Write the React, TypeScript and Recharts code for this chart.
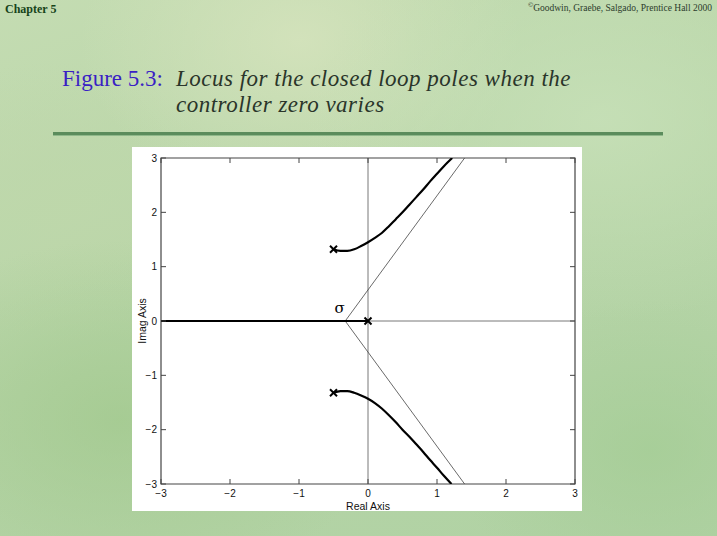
import React from 'react';
import { ComposedChart, Line, Scatter, XAxis, YAxis, ReferenceLine, ReferenceDot, ReferenceArea, Label } from 'recharts';

// tick values shared by both axes
const axisTicks = [-3, -2, -1, 0, 1, 2, 3];

// root locus branches
const realAxisLocus = [
  { x: -3, y: 0 },
  { x: 0, y: 0 },
];
const upperBranch = [
  { x: -0.5, y: 1.32 },
  { x: -0.4, y: 1.29 },
  { x: -0.3, y: 1.29 },
  { x: -0.2, y: 1.32 },
  { x: -0.1, y: 1.38 },
  { x: 0, y: 1.45 },
  { x: 0.1, y: 1.53 },
  { x: 0.2, y: 1.62 },
  { x: 0.3, y: 1.74 },
  { x: 0.4, y: 1.87 },
  { x: 0.5, y: 2.0 },
  { x: 0.6, y: 2.14 },
  { x: 0.7, y: 2.28 },
  { x: 0.8, y: 2.42 },
  { x: 0.9, y: 2.57 },
  { x: 1.0, y: 2.71 },
  { x: 1.1, y: 2.85 },
  { x: 1.22, y: 3.0 },
];
const lowerBranch = [
  { x: -0.5, y: -1.32 },
  { x: -0.4, y: -1.29 },
  { x: -0.3, y: -1.29 },
  { x: -0.2, y: -1.32 },
  { x: -0.1, y: -1.37 },
  { x: 0, y: -1.43 },
  { x: 0.1, y: -1.51 },
  { x: 0.2, y: -1.61 },
  { x: 0.3, y: -1.73 },
  { x: 0.4, y: -1.86 },
  { x: 0.5, y: -2.0 },
  { x: 0.6, y: -2.13 },
  { x: 0.7, y: -2.27 },
  { x: 0.8, y: -2.41 },
  { x: 0.9, y: -2.56 },
  { x: 1.0, y: -2.70 },
  { x: 1.1, y: -2.85 },
  { x: 1.21, y: -3.0 },
];

// asymptotes leaving sigma at +-60 degrees
const upperAsymptote = [
  { x: -0.33, y: 0 },
  { x: 1.4, y: 3 },
];
const lowerAsymptote = [
  { x: -0.33, y: 0 },
  { x: 1.4, y: -3 },
];

// open loop poles
const poles = [
  { x: -0.5, y: 1.32 },
  { x: 0, y: 0 },
  { x: -0.5, y: -1.32 },
];

const sigmaLabel = { x: -0.41, y: 0.24 };

// plot box size (matlab style box with ticks on every side)
const PLOT_W = 414;
const PLOT_H = 326;
const TICK = 5;

const fmt = (v: number) => String(v).replace('-', '\u2212');
const tickFont = { fontFamily: '"Liberation Sans", Arial, sans-serif', fontSize: 10, fill: '#111' };

const BottomTick = (props: any) => {
  const { x, y, payload } = props;
  return (
    <g>
      <line x1={x} y1={y} x2={x} y2={y - TICK} stroke='#444' />
      <line x1={x} y1={y - PLOT_H} x2={x} y2={y - PLOT_H + TICK} stroke='#444' />
      <text x={x} y={y + 13} textAnchor='middle' {...tickFont}>
        {fmt(payload.value)}
      </text>
    </g>
  );
};

const LeftTick = (props: any) => {
  const { x, y, payload } = props;
  return (
    <g>
      <line x1={x} y1={y} x2={x + TICK} y2={y} stroke='#444' />
      <line x1={x + PLOT_W} y1={y} x2={x + PLOT_W - TICK} y2={y} stroke='#444' />
      <text x={x - 4} y={y + 3.5} textAnchor='end' {...tickFont}>
        {fmt(payload.value)}
      </text>
    </g>
  );
};

const Cross = (props: any) => {
  const { cx, cy } = props;
  const s = 3.5;
  return (
    <g stroke='#000' strokeWidth={2}>
      <line x1={cx - s} y1={cy - s} x2={cx + s} y2={cy + s} />
      <line x1={cx - s} y1={cy + s} x2={cx + s} y2={cy - s} />
    </g>
  );
};

const background =
  'radial-gradient(ellipse 260px 180px at 120px 420px, rgba(160,200,140,0.7), transparent),' +
  'radial-gradient(ellipse 300px 200px at 600px 120px, rgba(200,225,185,0.8), transparent),' +
  'radial-gradient(ellipse 220px 160px at 300px 40px, rgba(215,228,190,0.8), transparent),' +
  'radial-gradient(ellipse 200px 150px at 650px 450px, rgba(165,205,150,0.8), transparent),' +
  'radial-gradient(ellipse 180px 140px at 60px 200px, rgba(190,215,170,0.8), transparent),' +
  'linear-gradient(160deg, #c4dcb2 0%, #b6d4a6 50%, #b0d2a4 100%)';

export default function App() {
  return (
    <div
      style={{
        position: 'fixed',
        left: 0,
        top: 0,
        width: 717,
        height: 536,
        overflow: 'hidden',
        background,
      }}
    >
      <div
        style={{
          position: 'absolute',
          left: 5,
          top: 2,
          fontFamily: '"Liberation Serif", serif',
          fontWeight: 'bold',
          fontSize: 12,
          color: '#17441a',
        }}
      >
        Chapter 5
      </div>
      <div
        style={{
          position: 'absolute',
          right: 5,
          top: 1,
          fontFamily: '"Liberation Serif", serif',
          fontSize: 9.5,
          color: '#2c3c2c',
        }}
      >
        <sup style={{ fontSize: 7, fontWeight: 'bold' }}>©</sup>Goodwin, Graebe, Salgado, Prentice Hall 2000
      </div>

      <div
        style={{
          position: 'absolute',
          left: 62,
          top: 66,
          fontFamily: '"Liberation Serif", serif',
          fontSize: 23,
          lineHeight: '26px',
          color: '#3a1fc4',
          whiteSpace: 'nowrap',
        }}
      >
        Figure 5.3:
      </div>
      <div
        style={{
          position: 'absolute',
          left: 176,
          top: 66,
          fontFamily: '"Liberation Serif", serif',
          fontStyle: 'italic',
          fontSize: 23,
          letterSpacing: 0.5,
          lineHeight: '26px',
          color: '#2a352a',
          whiteSpace: 'nowrap',
        }}
      >
        Locus for the closed loop poles when the
        <br />
        controller zero varies
      </div>
      <div
        style={{
          position: 'absolute',
          left: 53,
          top: 132,
          width: 610,
          height: 3,
          background: '#5b8c5c',
          borderBottom: '1px solid #8fb88a',
        }}
      />

      <div style={{ position: 'absolute', left: 132, top: 147, width: 450, height: 364, background: '#fff' }}>
        <ComposedChart width={29 + PLOT_W + 7} height={11 + PLOT_H + 27} margin={{ top: 11, right: 7, left: 0, bottom: 0 }}>
          <XAxis
            type='number'
            dataKey='x'
            domain={[-3, 3]}
            ticks={axisTicks}
            interval={0}
            allowDataOverflow
            height={27}
            tickSize={0}
            tickMargin={0}
            tickLine={false}
            axisLine={false}
            tick={<BottomTick />}
          >
            <Label
              value='Real Axis'
              position='insideBottom'
              offset={1}
              style={{ fontFamily: '"Liberation Sans", Arial, sans-serif', fontSize: 10.5, fill: '#111' }}
            />
          </XAxis>
          <YAxis
            type='number'
            dataKey='y'
            domain={[-3, 3]}
            ticks={axisTicks}
            interval={0}
            allowDataOverflow
            width={29}
            tickSize={0}
            tickMargin={0}
            tickLine={false}
            axisLine={false}
            tick={<LeftTick />}
          >
            <Label
              value='Imag Axis'
              angle={-90}
              position='insideLeft'
              offset={10}
              style={{
                fontFamily: '"Liberation Sans", Arial, sans-serif',
                fontSize: 10.5,
                fill: '#111',
                textAnchor: 'middle',
              }}
            />
          </YAxis>

          <ReferenceLine x={0} stroke='#555' strokeWidth={0.8} />
          <ReferenceLine y={0} stroke='#555' strokeWidth={0.8} />
          <ReferenceArea x1={-3} x2={3} y1={-3} y2={3} fill='none' fillOpacity={0} stroke='#444' strokeWidth={1.2} />

          <Line data={upperAsymptote} dataKey='y' stroke='#444' strokeWidth={0.8} dot={false} isAnimationActive={false} />
          <Line data={lowerAsymptote} dataKey='y' stroke='#444' strokeWidth={0.8} dot={false} isAnimationActive={false} />
          <Line data={realAxisLocus} dataKey='y' stroke='#000' strokeWidth={2.2} dot={false} isAnimationActive={false} />
          <Line
            data={upperBranch}
            dataKey='y'
            type='monotone'
            stroke='#000'
            strokeWidth={2.2}
            dot={false}
            isAnimationActive={false}
          />
          <Line
            data={lowerBranch}
            dataKey='y'
            type='monotone'
            stroke='#000'
            strokeWidth={2.2}
            dot={false}
            isAnimationActive={false}
          />
          <Scatter data={poles} dataKey='y' shape={<Cross />} isAnimationActive={false} />
          <ReferenceDot
            x={sigmaLabel.x}
            y={sigmaLabel.y}
            r={0}
            label={{
              value: 'σ',
              position: 'center',
              style: { fontFamily: '"DejaVu Serif", serif', fontSize: 15, fill: '#000' },
            }}
          />
        </ComposedChart>
      </div>
    </div>
  );
}
